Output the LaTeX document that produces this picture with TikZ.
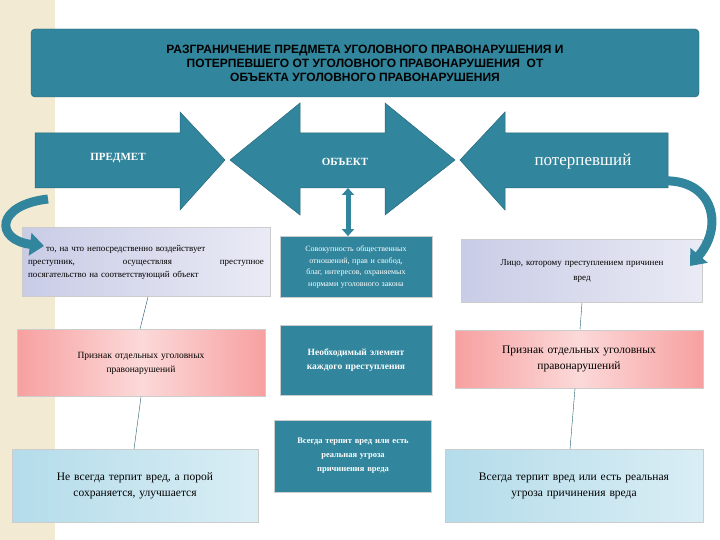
\documentclass[tikz,border=0pt]{standalone}
\usepackage{fontspec}
\setmainfont{Liberation Serif}
\newfontfamily\headfont{Liberation Sans}
\usetikzlibrary{arrows.meta}
\definecolor{teal1}{HTML}{31859C}
\definecolor{lav}{HTML}{C9CCE6}
\definecolor{pinkbox}{HTML}{F7A0A0}
\definecolor{bluebox}{HTML}{B4DCEA}
\definecolor{stripe}{HTML}{F2EAD3}
\tikzset{
  txtbox/.style={draw=white!60!gray,line width=0.8pt,align=center,inner sep=3pt},
  lavbox/.style={txtbox,left color=lav,right color=lav!40},
  pinkbox/.style={txtbox,left color=pinkbox,right color=pinkbox,middle color=pinkbox!40},
  bluebox/.style={txtbox,left color=bluebox,right color=bluebox!50},
  tealbox/.style={txtbox,fill=teal1,text=white,font=\bfseries\fontsize{8}{10}\selectfont},
  bigarrow/.style={fill=teal1,draw=teal1!80!black,line width=0.5pt},
  bendarrow/.style={teal1,line width=9pt,-{Triangle[width=22pt,length=14pt]}},
  link/.style={draw=teal1!70!black,line width=0.4pt}
}
\begin{document}
\begin{tikzpicture}[x=1pt,y=-1pt]
  \useasboundingbox (0,0) rectangle (720,540);
  \fill[white] (0,0) rectangle (720,540);
  \fill[stripe] (0,0) rectangle (55,540);
  %% title
  \node (title) at (365,63) [draw=teal1!70!black,fill=teal1,rounded corners=4pt,minimum width=668pt,minimum height=68pt,align=center,
    font=\headfont\bfseries\fontsize{12}{14}\selectfont] {РАЗГРАНИЧЕНИЕ ПРЕДМЕТА УГОЛОВНОГО ПРАВОНАРУШЕНИЯ И\\ПОТЕРПЕВШЕГО ОТ УГОЛОВНОГО ПРАВОНАРУШЕНИЯ\ \ ОТ\\ОБЪЕКТА УГОЛОВНОГО ПРАВОНАРУШЕНИЯ};
  %% big arrows
  \draw[bigarrow] (35,133) -- (180,133) -- (180,112) -- (225,160) -- (180,210) -- (180,188) -- (35,188) -- cycle;
  \draw[bigarrow] (230,160) -- (300,103) -- (300,133) -- (385,133) -- (385,103) -- (455,160) -- (385,215) -- (385,188) -- (300,188) -- (300,215) -- cycle;
  \draw[bigarrow] (460,160) -- (505,112) -- (505,133) -- (668,133) -- (668,188) -- (505,188) -- (505,210) -- cycle;
  \node (subj) at (118,158) [text=white,font=\bfseries\fontsize{11}{13}\selectfont] {ПРЕДМЕТ};
  \node (obj) at (345,162) [text=white,font=\bfseries\fontsize{11}{13}\selectfont] {ОБЪЕКТ};
  \node (vict) at (583,161) [text=white,font=\fontsize{17}{19}\selectfont] {потерпевший};
  %% rows
  \node (r1a) at (146,262) [lavbox,minimum width=248pt,minimum height=69pt,text width=236pt,font=\fontsize{9}{13}\selectfont]
    {\makebox[236pt][s]{\qquad то, на что непосредственно воздействует}\\\makebox[236pt][s]{преступник, \hfill осуществляя \hfill преступное}\\\makebox[236pt][s]{посягательство на соответствующий объект}};
  \node (r1b) at (356,267) [tealbox,minimum width=152pt,minimum height=61pt,text width=144pt,font=\fontsize{8}{11.5}\selectfont]
    {Совокупность общественных\\отношений, прав и свобод,\\благ, интересов, охраняемых\\нормами уголовного закона};
  \node (r1c) at (582,271) [lavbox,minimum width=241pt,minimum height=63pt,text width=230pt,font=\fontsize{9}{15}\selectfont]
    {Лицо, которому преступлением причинен\\вред};
  \node (r2a) at (141,363) [pinkbox,minimum width=248pt,minimum height=67pt,text width=220pt,font=\fontsize{9.5}{14}\selectfont]
    {Признак отдельных уголовных\\правонарушений};
  \node (r2b) at (356,360) [tealbox,minimum width=152pt,minimum height=70pt,text width=144pt,font=\bfseries\fontsize{9.5}{14}\selectfont]
    {Необходимый элемент\\каждого преступления};
  \node (r2c) at (579,359) [pinkbox,minimum width=248pt,minimum height=58pt,text width=230pt,font=\fontsize{11.5}{16}\selectfont]
    {Признак отдельных уголовных\\правонарушений};
  \node (r3a) at (135,486) [bluebox,minimum width=246pt,minimum height=73pt,text width=230pt,font=\fontsize{11.5}{16}\selectfont]
    {Не всегда терпит вред, а порой\\сохраняется, улучшается};
  \node (r3b) at (353,456) [tealbox,minimum width=157pt,minimum height=72pt,text width=150pt,font=\bfseries\fontsize{8.5}{14}\selectfont]
    {Всегда терпит вред или есть\\реальная угроза\\причинения вреда};
  \node (r3c) at (574,486) [bluebox,minimum width=258pt,minimum height=73pt,text width=250pt,font=\fontsize{11.5}{16}\selectfont]
    {Всегда терпит вред или есть реальная\\угроза причинения вреда};
  %% curved arrows
  \coordinate (lfrom) at (48,199);
  \coordinate (lto) at (44,246);
  \coordinate (rfrom) at (662,181);
  \coordinate (rto) at (690,266);
  \draw[bendarrow] (lfrom) .. controls (-5,205) and (-5,240) .. (lto);
  \draw[bendarrow] (rfrom) .. controls (712,178) and (725,225) .. (rto);
  %% links
  \draw[{Triangle[width=12pt,length=7pt]}-{Triangle[width=12pt,length=7pt]},teal1,line width=5pt] (348,188) -- (r1b.north -| 348,0);
  \draw[link] (r1a.south) ++(2,0) -- ([xshift=-1pt]r2a.north);
  \draw[link] (r2a.south) -- ([xshift=-1pt]r3a.north);
  \draw[link] (r1c.south) -- ([xshift=1pt]r2c.north);
  \draw[link] ([xshift=-4pt]r2c.south) -- ([xshift=-4pt]r3c.north);
\end{tikzpicture}
\end{document}
